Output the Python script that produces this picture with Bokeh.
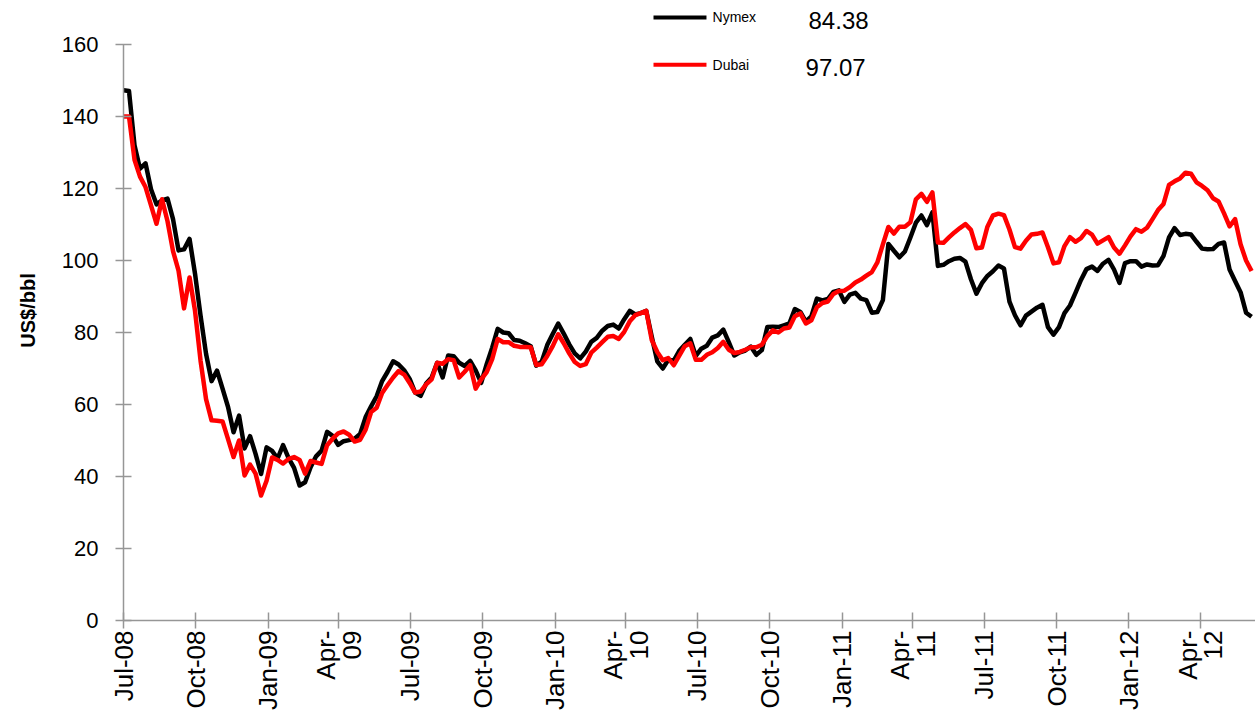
import math
import pandas as pd
from bokeh.plotting import figure
from bokeh.models import Range1d, FixedTicker
from bokeh.core.properties import value
from bokeh.embed import file_html
from bokeh.resources import INLINE

# ---------------- data (weekly, from Jul-2008) ----------------
nymex = [
    147.3, 147.1, 132.0, 125.5, 127.0, 119.8, 115.6, 116.7, 117.2, 111.5,
    102.8, 103.1, 106.0, 96.3, 84.7, 74.1, 66.5, 69.4, 64.4, 59.3,
    52.3, 56.9, 47.8, 51.2, 46.3, 40.7, 48.1, 47.1, 45.0, 48.7,
    45.1, 42.4, 37.5, 38.4, 42.6, 45.6, 47.2, 52.4, 51.3, 48.8,
    49.8, 50.1, 50.5, 51.8, 56.5, 59.5, 62.3, 66.5, 69.1, 72.0,
    71.1, 69.5, 67.1, 63.3, 62.4, 65.8, 67.5, 71.6, 67.5, 73.6,
    73.4, 71.6, 70.7, 72.1, 69.5, 66.0, 71.2, 75.8, 81.0, 80.0,
    79.8, 77.9, 77.7, 77.0, 76.2, 70.8, 71.9, 76.5, 79.6, 82.5,
    79.7, 76.7, 74.2, 72.8, 74.7, 77.4, 78.5, 80.5, 81.8, 82.2,
    81.1, 83.7, 86.0, 85.0, 85.4, 86.0, 78.8, 72.0, 70.0, 72.4,
    72.2, 74.9, 76.6, 78.2, 73.5, 75.5, 76.3, 78.6, 79.2, 80.8,
    77.3, 73.6, 74.5, 75.0, 76.1, 73.8, 75.1, 81.5, 81.6, 81.5,
    82.0, 82.5, 86.5, 85.7, 83.0, 84.5, 89.4, 88.9, 89.3, 91.3,
    91.7, 88.5, 90.5, 91.0, 89.4, 89.0, 85.5, 85.7, 89.0, 104.6,
    102.7, 100.9, 102.5, 106.4, 110.5, 112.5, 109.8, 113.4, 98.5, 98.8,
    99.8, 100.5, 100.7, 99.7, 94.8, 90.8, 93.7, 95.7, 97.0, 98.6,
    97.8, 88.6, 84.8, 82.0, 84.7, 85.8, 86.9, 87.7, 81.5, 79.4,
    81.5, 85.4, 87.5, 91.0, 94.6, 97.6, 98.3, 97.1, 99.1, 100.2,
    97.5, 93.8, 99.3, 99.8, 99.8, 98.3, 98.9, 98.6, 98.7, 101.3,
    106.4, 109.0, 107.1, 107.4, 107.2, 105.2, 103.3, 103.1, 103.2, 104.6,
    105.0, 97.5, 94.3, 91.2, 85.5, 84.38,
]

dubai = [
    140.0, 140.0, 128.0, 123.3, 120.4, 115.3, 110.2, 117.0, 110.9, 102.6,
    97.2, 86.7, 95.3, 86.0, 72.2, 61.5, 55.6, 55.5, 55.3, 50.4,
    45.4, 50.0, 40.3, 43.3, 40.8, 34.7, 38.8, 45.3, 44.6, 43.6,
    44.9, 45.4, 44.6, 40.8, 44.3, 43.9, 43.5, 48.7, 50.5, 52.0,
    52.5, 51.6, 49.7, 50.2, 53.0, 57.9, 59.1, 63.2, 65.4, 67.5,
    69.3, 68.3, 66.0, 63.3, 63.6, 65.6, 67.0, 71.6, 71.3, 72.6,
    72.3, 67.5, 69.1, 70.9, 64.4, 67.0, 69.0, 72.6, 78.2, 77.3,
    77.3, 76.3, 76.0, 76.0, 75.9, 71.0, 71.2, 73.5, 76.2, 79.5,
    77.0, 74.2, 71.8, 70.7, 71.2, 74.4, 75.8, 77.3, 78.8, 79.0,
    78.2, 80.2, 83.1, 84.8, 85.4, 86.0, 77.9, 74.6, 72.3, 72.9,
    70.9, 73.6, 76.2, 77.0, 72.4, 72.4, 73.8, 74.5, 75.7, 77.4,
    75.2, 74.3, 74.6, 75.2, 75.9, 75.9, 76.6, 79.0, 80.6, 80.0,
    81.1, 81.4, 84.5, 85.3, 82.5, 83.4, 87.0, 88.2, 88.6, 90.7,
    91.5, 91.6, 92.6, 93.9, 94.7, 95.8, 96.8, 99.5, 104.5, 109.3,
    107.5, 109.4, 109.4, 110.6, 117.0, 118.5, 116.3, 118.9, 105.0, 104.9,
    106.4, 107.8, 109.0, 110.1, 108.5, 103.4, 103.6, 109.4, 112.5, 113.0,
    112.6, 108.6, 103.7, 103.3, 105.5, 107.2, 107.4, 107.8, 103.7, 99.2,
    99.5, 104.0, 106.5, 105.2, 106.2, 108.2, 107.2, 104.7, 105.6, 106.5,
    103.6, 101.9, 104.2, 106.7, 108.7, 108.0, 109.1, 111.5, 114.0, 115.7,
    121.0, 122.0, 122.8, 124.4, 124.1, 121.7, 120.7, 119.5, 117.3, 116.4,
    113.1, 109.5, 111.5, 104.5, 100.0, 97.07,
]

series_names = ["Nymex", "Dubai"]
series_colors = ["#000000", "#ff0000"]

tick_labels = [
    "Jul-08", "Oct-08", "Jan-09", "Apr-\n09",
    "Jul-09", "Oct-09", "Jan-10", "Apr-\n10",
    "Jul-10", "Oct-10", "Jan-11", "Apr-\n11",
    "Jul-11", "Oct-11", "Jan-12", "Apr-\n12",
]
y_ticks = [0, 20, 40, 60, 80, 100, 120, 140, 160]

# ---------------- x positions from dates ----------------
start = pd.Timestamp("2008-07-01")
dates = pd.date_range(start, periods=len(nymex), freq="7D")
x = [(d - start).days for d in dates]
tick_dates = pd.date_range("2008-07-01", "2012-04-01", freq="QS")
tick_x = [(d - start).days for d in tick_dates]

AXIS_GRAY = "#969696"
FONT = "Liberation Sans"

p = figure(
    width=1255, height=716,
    output_backend="svg", toolbar_location=None, tools="",
    x_range=Range1d(0, 1440), y_range=Range1d(0, 172.22),
    min_border_left=123, min_border_right=0,
    min_border_top=0, min_border_bottom=96,
)
p.outline_line_color = None
p.grid.visible = False
p.background_fill_color = "white"
p.border_fill_color = "white"

# series
p.line(x, nymex, line_color=series_colors[0], line_width=4.5, line_join="round")
p.line(x, dubai, line_color=series_colors[1], line_width=4.5, line_join="round")

# y axis
p.yaxis.ticker = FixedTicker(ticks=y_ticks)
p.yaxis.bounds = (0, 160)
p.yaxis.axis_line_color = AXIS_GRAY
p.yaxis.axis_line_width = 1.5
p.yaxis.major_tick_line_color = AXIS_GRAY
p.yaxis.major_tick_line_width = 1.5
p.yaxis.major_tick_in = 8
p.yaxis.major_tick_out = 8
p.yaxis.minor_tick_line_color = None
p.yaxis.major_label_text_font = FONT
p.yaxis.major_label_text_font_size = "22px"
p.yaxis.major_label_text_color = "#000000"
p.yaxis.major_label_standoff = 17
p.yaxis.axis_label = "US$/bbl"
p.yaxis.axis_label_text_font = FONT
p.yaxis.axis_label_text_font_size = "20px"
p.yaxis.axis_label_text_font_style = "bold"
p.yaxis.axis_label_text_color = "#000000"
p.yaxis.axis_label_standoff = 20

# x axis
p.xaxis.ticker = FixedTicker(ticks=tick_x)
p.xaxis.major_label_overrides = dict(zip(tick_x, tick_labels))
p.xaxis.major_label_orientation = math.pi / 2
p.xaxis.axis_line_color = AXIS_GRAY
p.xaxis.axis_line_width = 1.5
p.xaxis.major_tick_line_color = AXIS_GRAY
p.xaxis.major_tick_line_width = 1.5
p.xaxis.major_tick_in = 8
p.xaxis.major_tick_out = 8
p.xaxis.minor_tick_line_color = None
p.xaxis.major_label_text_font = FONT
p.xaxis.major_label_text_font_size = "26px"
p.xaxis.major_label_text_color = "#000000"
p.xaxis.major_label_text_line_height = 0.85
p.xaxis.major_label_standoff = 2

# legend-like header with last values
last_vals = [f"{nymex[-1]:.2f}", f"{dubai[-1]:.2f}"]
leg_y = [167.5, 154.4]
val_y = [166.7, 153.6]
p.segment(x0=[674.2, 674.2], y0=leg_y, x1=[741.6, 741.6], y1=leg_y,
          line_color=series_colors, line_width=4)
p.text(x=[749.3, 749.3], y=leg_y, text=series_names,
       text_font=value(FONT), text_font_size="14px", text_color="#000000",
       text_align="left", text_baseline="middle")
p.text(x=[871.4, 867.6], y=val_y, text=last_vals,
       text_font=value(FONT), text_font_size="24px", text_color="#000000",
       text_align="left", text_baseline="middle")

open("out.html", "w").write(file_html(p, INLINE))
